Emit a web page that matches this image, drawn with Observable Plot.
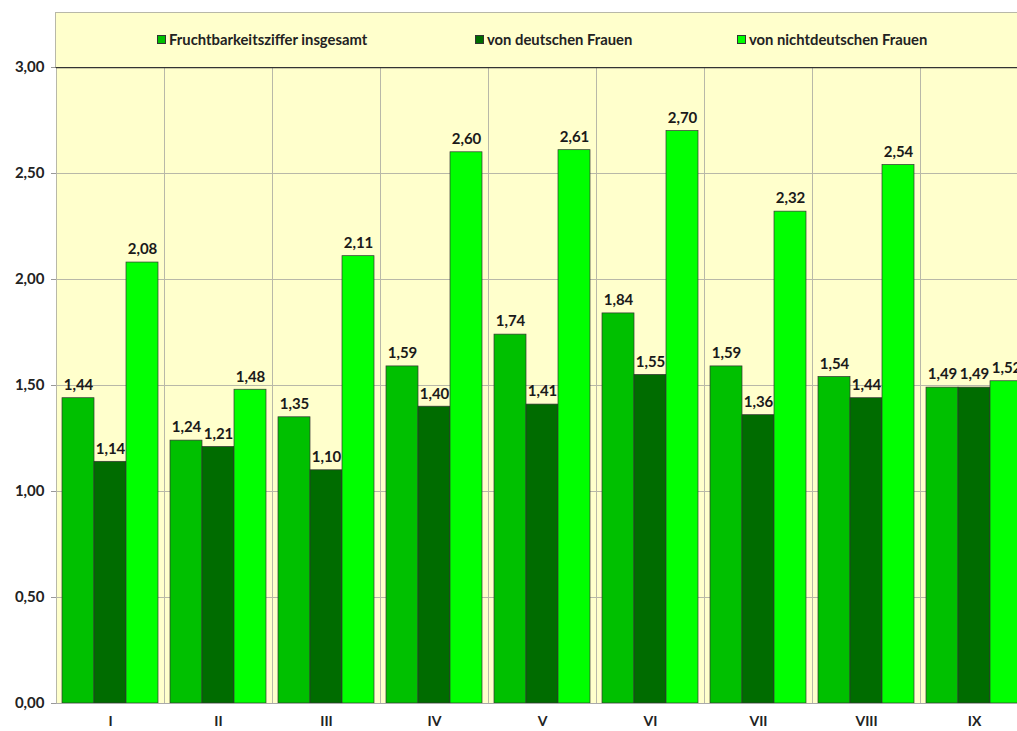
<!DOCTYPE html>
<html><head><meta charset="utf-8">
<script src="https://cdn.jsdelivr.net/npm/d3@7"></script>
<script src="https://cdn.jsdelivr.net/npm/@observablehq/plot@0.6"></script>
<style>
html,body{margin:0;padding:0;background:#fff;overflow:hidden;width:1017px;height:731px;font-family:Lato,"DejaVu Sans",sans-serif}
#legend{position:relative;height:67px;width:1017px}
#legend .box{position:absolute;left:55px;top:12px;width:980px;height:54px;background:#ffffcc;border-left:1px solid #b8b8a8;border-top:1px solid #b8b8a8;border-bottom:1.5px solid #333}
#legend .item{position:absolute;top:17px;font-weight:bold;font-size:14.8px;color:#222;display:flex;align-items:center;white-space:nowrap}
#legend .sw{width:9px;height:9px;border:1px solid #333;margin-right:3px;box-sizing:border-box}
#chart svg{display:block}
</style></head>
<body>
<div id="legend"><div class="box"></div></div>
<div id="chart"></div>
<script>
const categories = ["I","II","III","IV","V","VI","VII","VIII","IX"];
const series = ["Fruchtbarkeitsziffer insgesamt","von deutschen Frauen","von nichtdeutschen Frauen"];
const total     = [1.44, 1.24, 1.35, 1.59, 1.74, 1.84, 1.59, 1.54, 1.49];
const german    = [1.14, 1.21, 1.10, 1.40, 1.41, 1.55, 1.36, 1.44, 1.49];
const nonGerman = [2.08, 1.48, 2.11, 2.60, 2.61, 2.70, 2.32, 2.54, 1.52];
const colors = ["#00c000", "#006c00", "#00ff00"];
const yTicks = [0, 0.5, 1, 1.5, 2, 2.5, 3];
const legendX = [101, 419, 681];

const fmt = v => d3.format(".2f")(v).replace(".", ",");
const valuesBySeries = [total, german, nonGerman];
const data = categories.flatMap((c, i) => series.map((s, j) => ({cat: c, s, v: valuesBySeries[j][i]})));

// legend
const box = document.querySelector("#legend .box");
series.forEach((s, j) => {
  const it = document.createElement("div");
  it.className = "item";
  it.style.left = legendX[j] + "px";
  it.innerHTML = `<span class="sw" style="background:${colors[j]}"></span><span>${s}</span>`;
  box.appendChild(it);
});

const chart = Plot.plot({
  width: 1017, height: 664,
  marginTop: 0, marginBottom: 28, marginLeft: 55, marginRight: -11,
  style: {background: "transparent", overflow: "visible", fontFamily: "Lato, 'DejaVu Sans', sans-serif", fontWeight: "bold", fontSize: "15px", color: "#222"},
  fx: {domain: categories, padding: 0, label: null, axis: null},
  x: {domain: series, paddingInner: 0, paddingOuter: 0.155, axis: null},
  y: {domain: [0, 3], label: null, axis: null},
  color: {domain: series, range: colors},
  marks: [
    Plot.frame({fill: "#ffffcc", stroke: null}),
    Plot.gridY(yTicks.filter(t => t > 0 && t < 3), {stroke: "#b8b8a8", strokeOpacity: 1}),
    Plot.frame({anchor: "left", stroke: "#b8b8a8", strokeOpacity: 1}),
    Plot.barY(data, {fx: "cat", x: "s", y: "v", fill: "s", stroke: "#333", strokeWidth: 0.7}),
    Plot.text(data, {fx: "cat", x: "s", y: "v", text: d => fmt(d.v), dy: -13, fill: "#1a1a1a", fontSize: 15, fontWeight: "bold"}),
    Plot.ruleY([0], {stroke: "#aaa"}),
    Plot.ruleY([3], {stroke: "#333", strokeWidth: 1.5}),
    Plot.axisY({ticks: yTicks, tickSize: 5, tickPadding: 7, stroke: "#999", tickFormat: fmt, fill: "#222", fontSize: 15, fontWeight: "bold", label: null}),
    Plot.axisFx({anchor: "bottom", tickSize: 0, tickPadding: 13, fill: "#222", fontSize: 14, fontWeight: "bold", label: null})
  ]
});
document.getElementById("chart").appendChild(chart);
</script>
</body></html>
